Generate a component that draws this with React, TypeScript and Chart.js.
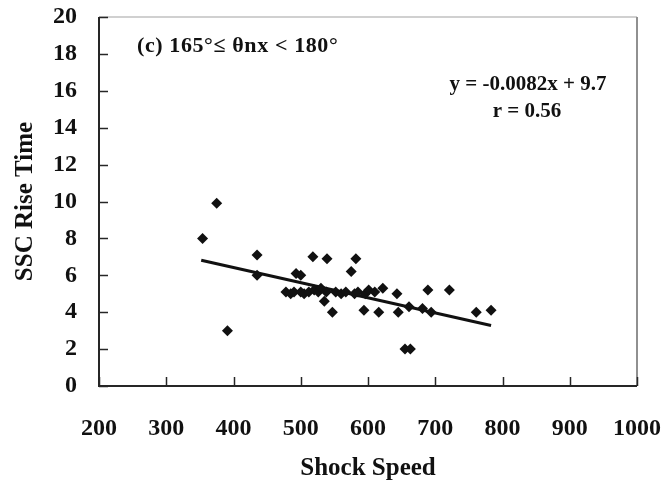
import React, { useEffect, useRef } from 'react';
import { Chart, registerables } from 'chart.js';

Chart.register(...registerables);

// ---- data ----
const shockSpeed = [
  354, 375, 391, 435, 435, 478, 485, 490, 493, 500, 500, 505, 512, 518, 520,
  526, 530, 535, 538, 539, 547, 552, 560, 567, 575, 580, 582, 585, 594, 596,
  601, 610, 616, 622, 643, 645, 655, 663, 661, 681, 689, 694, 721, 761, 783,
];
const riseTime = [
  8.0, 9.9, 3.0, 7.1, 6.0, 5.1, 5.0, 5.1, 6.1, 6.0, 5.1, 5.0, 5.1, 7.0, 5.2,
  5.1, 5.3, 4.6, 5.1, 6.9, 4.0, 5.1, 5.0, 5.1, 6.2, 5.0, 6.9, 5.1, 4.1, 5.0,
  5.2, 5.1, 4.0, 5.3, 5.0, 4.0, 2.0, 2.0, 4.3, 4.2, 5.2, 4.0, 5.2, 4.0, 4.1,
];
const fitSlope = -0.0082;
const fitIntercept = 9.7;
const fitXRange = [352, 783];
const xAxisRange = [200, 1000];
const xStep = 100;
const yAxisRange = [0, 20];
const yStep = 2;
const panelLabel = '(c) 165°≤ θnx < 180°';
const equationLabel = 'y = -0.0082x + 9.7';
const correlationLabel = 'r = 0.56';
const xTitle = 'Shock Speed';
const yTitle = 'SSC Rise Time';

const SERIF = '"Liberation Serif", "Times New Roman", serif';

const framePlugin = {
  id: 'framePlugin',
  afterDraw(chart: any) {
    const { ctx, chartArea: a, scales } = chart;
    const x = scales.x;
    const y = scales.y;
    ctx.save();
    // grey plot-area frame (top & right)
    ctx.lineWidth = 2;
    ctx.strokeStyle = '#d0d0d0';
    ctx.beginPath();
    ctx.moveTo(a.left, a.top);
    ctx.lineTo(a.right, a.top);
    ctx.stroke();
    ctx.strokeStyle = '#909090';
    ctx.beginPath();
    ctx.moveTo(a.right, a.top);
    ctx.lineTo(a.right, a.bottom);
    ctx.stroke();
    // axes
    ctx.strokeStyle = '#262626';
    ctx.lineWidth = 2;
    ctx.beginPath();
    ctx.moveTo(a.left, a.top);
    ctx.lineTo(a.left, a.bottom);
    ctx.lineTo(a.right, a.bottom);
    ctx.stroke();
    // inward tick marks
    ctx.lineWidth = 1.5;
    x.ticks.forEach((t: any) => {
      const px = Math.round(x.getPixelForValue(t.value)) + 0.5;
      ctx.beginPath();
      ctx.moveTo(px, a.bottom);
      ctx.lineTo(px, a.bottom - 9);
      ctx.stroke();
    });
    y.ticks.forEach((t: any) => {
      const py = Math.round(y.getPixelForValue(t.value)) + 0.5;
      ctx.beginPath();
      ctx.moveTo(a.left, py);
      ctx.lineTo(a.left + 9, py);
      ctx.stroke();
    });
    // annotations
    ctx.fillStyle = '#111';
    ctx.textBaseline = 'middle';
    ctx.font = `bold 22px ${SERIF}`;
    ctx.textAlign = 'left';
    try { (ctx as any).letterSpacing = '0.6px'; } catch (e) {}
    ctx.fillText(panelLabel, 137, 46);
    ctx.font = `bold 21px ${SERIF}`;
    ctx.textAlign = 'center';
    try { (ctx as any).letterSpacing = '0px'; } catch (e) {}
    ctx.fillText(equationLabel, 528, 85);
    ctx.fillText(correlationLabel, 527, 112);
    ctx.restore();
  },
};

export default function App() {
  const ref = useRef<HTMLCanvasElement>(null);
  useEffect(() => {
    if (!ref.current) return;
    const points = shockSpeed.map((v, i) => ({ x: v, y: riseTime[i] }));
    const fit = fitXRange.map((v) => ({ x: v, y: fitIntercept + fitSlope * v }));
    const chart = new Chart(ref.current, {
      type: 'scatter',
      data: {
        datasets: [
          {
            label: 'fit',
            data: fit,
            showLine: true,
            borderColor: '#111',
            borderWidth: 3,
            pointRadius: 0,
            order: 2,
          },
          {
            label: 'events',
            data: points,
            pointStyle: 'rectRot',
            pointRadius: 5.5,
            backgroundColor: '#111',
            borderColor: '#111',
            borderWidth: 0,
            order: 1,
          },
        ],
      },
      options: {
        animation: false,
        responsive: false,
        layout: { padding: { top: 17, right: 30, left: 0, bottom: 0 } },
        plugins: { legend: { display: false }, tooltip: { enabled: false } },
        scales: {
          x: {
            type: 'linear',
            min: xAxisRange[0],
            max: xAxisRange[1],
            grid: { display: false },
            border: { display: false },
            ticks: {
              stepSize: xStep,
              padding: 20,
              color: '#111',
              font: { family: SERIF, size: 24, weight: 'bold' },
              callback: (v: any) => String(v),
            },
            title: {
              display: true,
              text: xTitle,
              color: '#111',
              padding: { top: 0, bottom: 1 },
              font: { family: SERIF, size: 25, weight: 'bold' },
            },
            afterFit: (s: any) => {
              s.height = 99;
              s.paddingLeft = 0;
              s.paddingRight = 0;
            },
          },
          y: {
            type: 'linear',
            min: yAxisRange[0],
            max: yAxisRange[1],
            grid: { display: false },
            border: { display: false },
            ticks: {
              stepSize: yStep,
              padding: 14,
              color: '#111',
              font: { family: SERIF, size: 24, weight: 'bold' },
            },
            title: {
              display: true,
              text: yTitle,
              color: '#111',
              padding: { top: 11, bottom: 0 },
              font: { family: SERIF, size: 25, weight: 'bold' },
            },
            afterFit: (s: any) => {
              s.width = 99;
              s.paddingTop = 0;
              s.paddingBottom = 0;
            },
          },
        },
      },
      plugins: [framePlugin],
    });
    return () => chart.destroy();
  }, []);
  return (
    <div style={{ position: 'absolute', left: 0, top: 0, width: 667, height: 485, background: '#fff' }}>
      <canvas ref={ref} width={667} height={485} style={{ display: 'block' }} />
    </div>
  );
}
